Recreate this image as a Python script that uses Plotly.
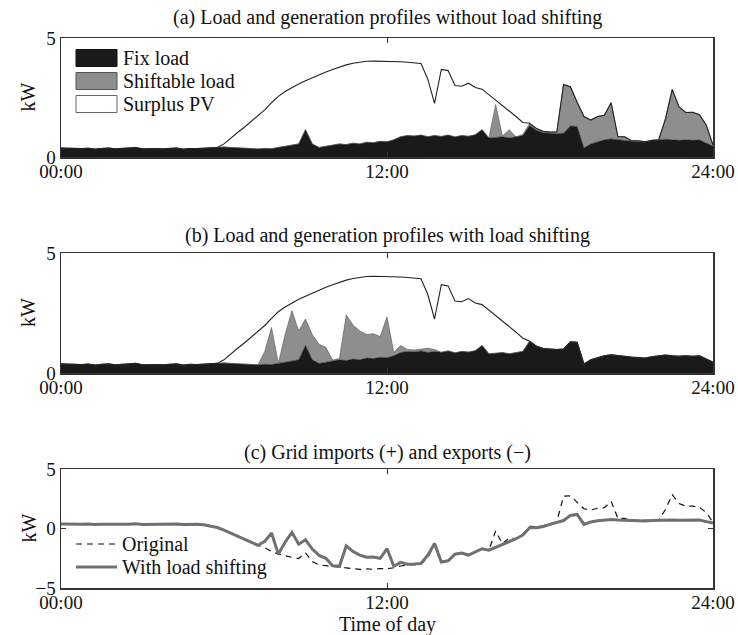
import numpy as np
import plotly.graph_objects as go

# ---------------- data (15-minute resolution, hours 0..24) ----------------
hours = [i * 0.25 for i in range(97)]
tick_vals = [0, 12, 24]
tick_text = ["00:00", "12:00", "24:00"]

fix_load = [
    0.38, 0.36, 0.37, 0.35,  0.37, 0.33, 0.36, 0.38,  0.34, 0.36, 0.35, 0.40,
    0.34, 0.36, 0.35, 0.34,  0.36, 0.38, 0.33, 0.36,  0.35, 0.37, 0.38, 0.40,
    0.42, 0.40, 0.38, 0.36,  0.35, 0.34, 0.36, 0.35,  0.40, 0.45, 0.50, 0.55,
    1.15, 0.55, 0.40, 0.45,  0.50, 0.55, 0.52, 0.58,  0.55, 0.62, 0.60, 0.66,
    0.64, 0.72, 0.85, 0.90,  0.88, 0.92, 0.85, 0.90,  0.86, 0.92, 0.84, 0.90,
    0.87, 0.93, 1.15, 0.80,  0.82, 0.85, 0.80, 0.84,  0.90, 1.32, 1.12, 1.02,
    1.00, 0.98, 1.00, 1.30,  1.28, 0.38, 0.55, 0.65,  0.72, 0.76, 0.72, 0.70,
    0.66, 0.64, 0.62, 0.68,  0.70, 0.75, 0.72, 0.70,  0.72, 0.70, 0.72, 0.58,
    0.45,
]

pv_generation = [
    0.0, 0.0, 0.0, 0.0,  0.0, 0.0, 0.0, 0.0,  0.0, 0.0, 0.0, 0.0,
    0.0, 0.0, 0.0, 0.0,  0.0, 0.0, 0.0, 0.0,  0.0, 0.05, 0.15, 0.32,
    0.55, 0.80, 1.03, 1.25,  1.50, 1.75, 1.98, 2.28,  2.55, 2.75, 2.92, 3.07,
    3.20, 3.33, 3.46, 3.57,  3.68, 3.78, 3.87, 3.94,  3.99, 4.02, 4.03, 4.03,
    4.03, 4.02, 4.00, 3.98,  3.95, 3.93, 3.28, 2.25,  3.68, 3.63, 3.00, 2.97,
    3.10, 2.92, 2.85, 2.62,  2.40, 2.18, 1.93, 1.70,  1.45, 1.25, 1.05, 0.85,
    0.65, 0.48, 0.33, 0.20,  0.10, 0.04, 0.0, 0.0,  0.0, 0.0, 0.0, 0.0,
    0.0, 0.0, 0.0, 0.0,  0.0, 0.0, 0.0, 0.0,  0.0, 0.0, 0.0, 0.0,
    0.0,
]

shift_original = [0.0] * 64 + [
    1.38, 0.03, 0.35, 0.00,  0.05, 0.10, 0.08, 0.06,
    0.05, 0.07, 2.05, 1.65,  1.02, 1.32, 1.00, 1.05,
    1.03, 1.52, 0.13, 0.15,  0.02, 0.04, 0.02, 0.02,
    0.02, 0.85, 2.12, 1.40,  1.15, 1.18, 1.06, 0.77,
    0.05,
]

shift_shifted = [0.0] * 30 + [
    0.54, 1.55, 0.00, 1.15, 2.10, 1.20, 1.10, 1.05, 0.80, 0.62,
    0.04, 0.05, 1.90, 1.42, 1.20, 0.98, 1.04, 0.86, 1.70, 0.13,
    0.30, 0.08, 0.08, 0.08, 0.18, 0.08,
] + [0.0] * 41

# ---------------- derived stacks ----------------
fix = np.array(fix_load)
pv = np.array(pv_generation)
tot_a = fix + np.array(shift_original)
tot_b = fix + np.array(shift_shifted)
top_a = np.maximum(pv, tot_a)
top_b = np.maximum(pv, tot_b)
grid_original = tot_a - pv
grid_shifted = tot_b - pv

# ---------------- layout helpers ----------------
W, H = 738, 635
L, R, T, B = 61, 713, 38, 588          # plot region in pixels
def px(x):
    return (x - L) / (R - L)
def py(y):
    return (B - y) / (B - T)

FONT = "Liberation Serif"
BLACK = "#1a1a1a"
GRAY = "#8e8e8e"
TXT = "#111111"

fig = go.Figure()

for k, (tot, top) in enumerate([(tot_a, top_a), (tot_b, top_b)]):
    xa = "x" if k == 0 else "x2"
    ya = "y" if k == 0 else "y2"
    fig.add_trace(go.Scatter(x=hours, y=fix, mode="lines", fill="tozeroy",
                             fillcolor=BLACK, line=dict(color=BLACK, width=0.5),
                             xaxis=xa, yaxis=ya, showlegend=False))
    fig.add_trace(go.Scatter(x=hours, y=tot, mode="lines", fill="tonexty",
                             fillcolor=GRAY, line=dict(color="#555555", width=0.6),
                             xaxis=xa, yaxis=ya, showlegend=False))
    fig.add_trace(go.Scatter(x=hours, y=top, mode="lines", fill="tonexty",
                             fillcolor="rgba(255,255,255,0)", line=dict(color="#222222", width=1.1),
                             xaxis=xa, yaxis=ya, showlegend=False))

fig.add_trace(go.Scatter(x=hours, y=grid_original, mode="lines",
                         line=dict(color="#111111", width=1.2, dash="6px,5px"),
                         xaxis="x3", yaxis="y3", showlegend=False))
fig.add_trace(go.Scatter(x=hours, y=grid_shifted, mode="lines",
                         line=dict(color="#707070", width=3),
                         xaxis="x3", yaxis="y3", showlegend=False))

axis_common = dict(showline=True, mirror="ticks", linecolor="#333333", linewidth=1.5,
                   ticks="inside", ticklen=5, tickcolor="#333333", showgrid=False,
                   zeroline=False, automargin=False,
                   tickfont=dict(family=FONT, size=19, color=TXT))

panels = [(38, 157, [0, 5], [0, 5]), (253, 373, [0, 5], [0, 5]), (469, 588, [-5, 5], [-5, 0, 5])]
for i, (top, bot, rng, yt) in enumerate(panels):
    s = "" if i == 0 else str(i + 1)
    fig.layout["xaxis" + s] = dict(domain=[0, 1], range=[0, 24], tickvals=tick_vals,
                                   ticktext=tick_text, anchor="y" + s,
                                   ticklabelstandoff=-3, **axis_common)
    fig.layout["yaxis" + s] = dict(domain=[max(0, py(bot)), min(1, py(top))], range=rng,
                                   tickvals=yt, anchor="x" + s, **axis_common)

annots = []
def add_text(text, x, y, xanchor="center", size=20, angle=0):
    annots.append(dict(text=text, x=px(x), y=py(y), xref="paper", yref="paper",
                       xanchor=xanchor, yanchor="middle", showarrow=False, textangle=angle,
                       font=dict(family=FONT, size=size, color=TXT)))

titles = [("(a) Load and generation profiles without load shifting", 18),
          ("(b) Load and generation profiles with load shifting", 235),
          ("(c) Grid imports (+) and exports (\u2212)", 452)]
for t, y in titles:
    add_text(t, 387, y)
for (top, bot, _, _) in panels:
    add_text("kW", 28, (top + bot) / 2, angle=-90)
add_text("Time of day", 387, 624)

# legend (a)
shapes = []
leg_a = [("Fix load", BLACK, "#111111", 58), ("Shiftable load", GRAY, "#555555", 81),
         ("Surplus PV", "#ffffff", "#666666", 104)]
for name, fc, lc, yc in leg_a:
    shapes.append(dict(type="rect", xref="paper", yref="paper", x0=px(76), x1=px(117),
                       y0=py(yc + 8.5), y1=py(yc - 8.5), fillcolor=fc,
                       line=dict(color=lc, width=1)))
    add_text(name, 121, yc, xanchor="left")
# legend (c)
shapes.append(dict(type="line", xref="paper", yref="paper", x0=px(76), x1=px(117),
                   y0=py(544), y1=py(544), line=dict(color="#111111", width=1.2, dash="6px,5px")))
shapes.append(dict(type="line", xref="paper", yref="paper", x0=px(76), x1=px(117),
                   y0=py(567), y1=py(567), line=dict(color="#707070", width=3)))
add_text("Original", 120, 544, xanchor="left")
add_text("With load shifting", 120, 567, xanchor="left")

fig.update_layout(width=W, height=H, autosize=False,
                  margin=dict(l=L, r=W - R, t=T, b=H - B, pad=0, autoexpand=False),
                  paper_bgcolor="white", plot_bgcolor="white",
                  annotations=annots, shapes=shapes, showlegend=False)

fig.write_html("out.html",
               config={"displayModeBar": False, "staticPlot": True},
               post_script="document.body.style.margin='0px';"
                           "document.body.style.overflow='hidden';")
